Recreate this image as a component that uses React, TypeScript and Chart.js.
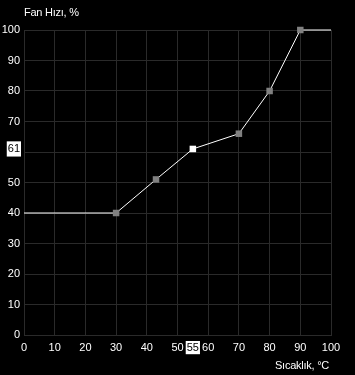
import React, { useEffect, useRef } from "react";
import { Chart, registerables } from "chart.js";

Chart.register(...registerables);

const temps = [0, 30, 43, 55, 70, 80, 90, 100];
const fanSpeeds = [40, 40, 51, 61, 66, 80, 100, 100];
const markerFlags = [false, true, true, true, true, true, true, false];
const selectedIndex = 3;
const xTickValues = [0, 10, 20, 30, 40, 50, 60, 70, 80, 90, 100];
const yTickValues = [0, 10, 20, 30, 40, 50, 60, 70, 80, 90, 100];
const yTitle = "Fan Hızı, %";
const xTitle = "Sıcaklık, °C";

const FONT = "'Liberation Sans', Arial, sans-serif";
const GRID = "#2a2a2a";

export default function App() {
  const ref = useRef<HTMLCanvasElement | null>(null);

  useEffect(() => {
    document.body.style.margin = "0";
    document.body.style.background = "#000";
    const canvas = ref.current;
    if (!canvas) return;
    const hx = temps[selectedIndex];
    const hy = fanSpeeds[selectedIndex];

    const textPlugin = {
      id: "axisTexts",
      beforeDraw(chart: any) {
        const c = chart.ctx;
        c.save();
        c.fillStyle = "#000";
        c.fillRect(0, 0, chart.width, chart.height);
        c.restore();
      },
      afterDraw(chart: any) {
        const c = chart.ctx;
        const a = chart.chartArea;
        c.save();
        c.font = `11px ${FONT}`;
        try {
          (c as any).letterSpacing = "-0.25px";
        } catch (e) {}
        c.fillStyle = "#fff";
        c.textBaseline = "alphabetic";
        c.textAlign = "left";
        c.fillText(yTitle, a.left, 16);
        c.textAlign = "right";
        c.fillText(xTitle, a.right - 2, 369);
        c.restore();
      },
    };

    const chart = new Chart(canvas, {
      type: "line",
      data: {
        datasets: [
          {
            data: temps.map((t, i) => ({ x: t, y: fanSpeeds[i] })),
            borderColor: "#fff",
            borderWidth: 1,
            pointStyle: "rect",
            pointRadius: (ctx: any) => (markerFlags[ctx.dataIndex] ? 4.6 : 0),
            pointBorderWidth: 0,
            pointBackgroundColor: (ctx: any) =>
              ctx.dataIndex === selectedIndex ? "#ffffff" : "#808080",
            pointBorderColor: "rgba(0,0,0,0)",
            tension: 0,
            clip: false,
          },
        ],
      },
      options: {
        animation: false,
        responsive: false,
        devicePixelRatio: 1,
        layout: { padding: { top: 30, right: 24, left: 0, bottom: 0 } },
        plugins: {
          legend: { display: false },
          tooltip: { enabled: false },
          title: { display: false },
        },
        scales: {
          x: {
            type: "linear",
            min: 0,
            max: 100,
            afterBuildTicks: (scale: any) => {
              const vals = [...xTickValues, hx].sort((a, b) => a - b);
              scale.ticks = vals.map((v) => ({ value: v }));
            },
            afterFit: (scale: any) => {
              scale.height = 40;
            },
            grid: {
              color: (ctx: any) =>
                ctx.tick && ctx.tick.value === hx ? "rgba(0,0,0,0)" : GRID,
              lineWidth: 1,
              drawTicks: false,
            },
            border: { color: GRID, width: 1 },
            ticks: {
              autoSkip: false,
              maxRotation: 0,
              padding: 6,
              font: { family: FONT, size: 11 },
              color: (ctx: any) => (ctx.tick && ctx.tick.value === hx ? "#000" : "#fff"),
              showLabelBackdrop: true,
              backdropColor: (ctx: any) =>
                ctx.tick && ctx.tick.value === hx ? "#fff" : "rgba(0,0,0,0)",
              backdropPadding: { left: 1, right: 1, top: 0, bottom: 0 },
              callback: (v: any) => String(v),
            },
          },
          y: {
            type: "linear",
            min: 0,
            max: 100,
            afterBuildTicks: (scale: any) => {
              const vals = [...yTickValues, hy].sort((a, b) => a - b);
              scale.ticks = vals.map((v) => ({ value: v }));
            },
            afterFit: (scale: any) => {
              scale.width = 24;
            },
            grid: {
              color: (ctx: any) =>
                ctx.tick && ctx.tick.value === hy ? "rgba(0,0,0,0)" : GRID,
              lineWidth: 1,
              drawTicks: false,
            },
            border: { color: GRID, width: 1 },
            ticks: {
              autoSkip: false,
              padding: 4,
              font: { family: FONT, size: 11 },
              color: (ctx: any) => (ctx.tick && ctx.tick.value === hy ? "#000" : "#fff"),
              showLabelBackdrop: true,
              backdropColor: (ctx: any) =>
                ctx.tick && ctx.tick.value === hy ? "#fff" : "rgba(0,0,0,0)",
              backdropPadding: { left: 1, right: 1, top: 1, bottom: 1 },
              callback: (v: any) => String(v),
            },
          },
        },
      },
      plugins: [textPlugin],
    } as any);

    return () => chart.destroy();
  }, []);

  return (
    <div style={{ position: "fixed", left: 0, top: 0, width: 355, height: 375, background: "#000" }}>
      <canvas ref={ref} width={355} height={375} style={{ display: "block" }} />
    </div>
  );
}
